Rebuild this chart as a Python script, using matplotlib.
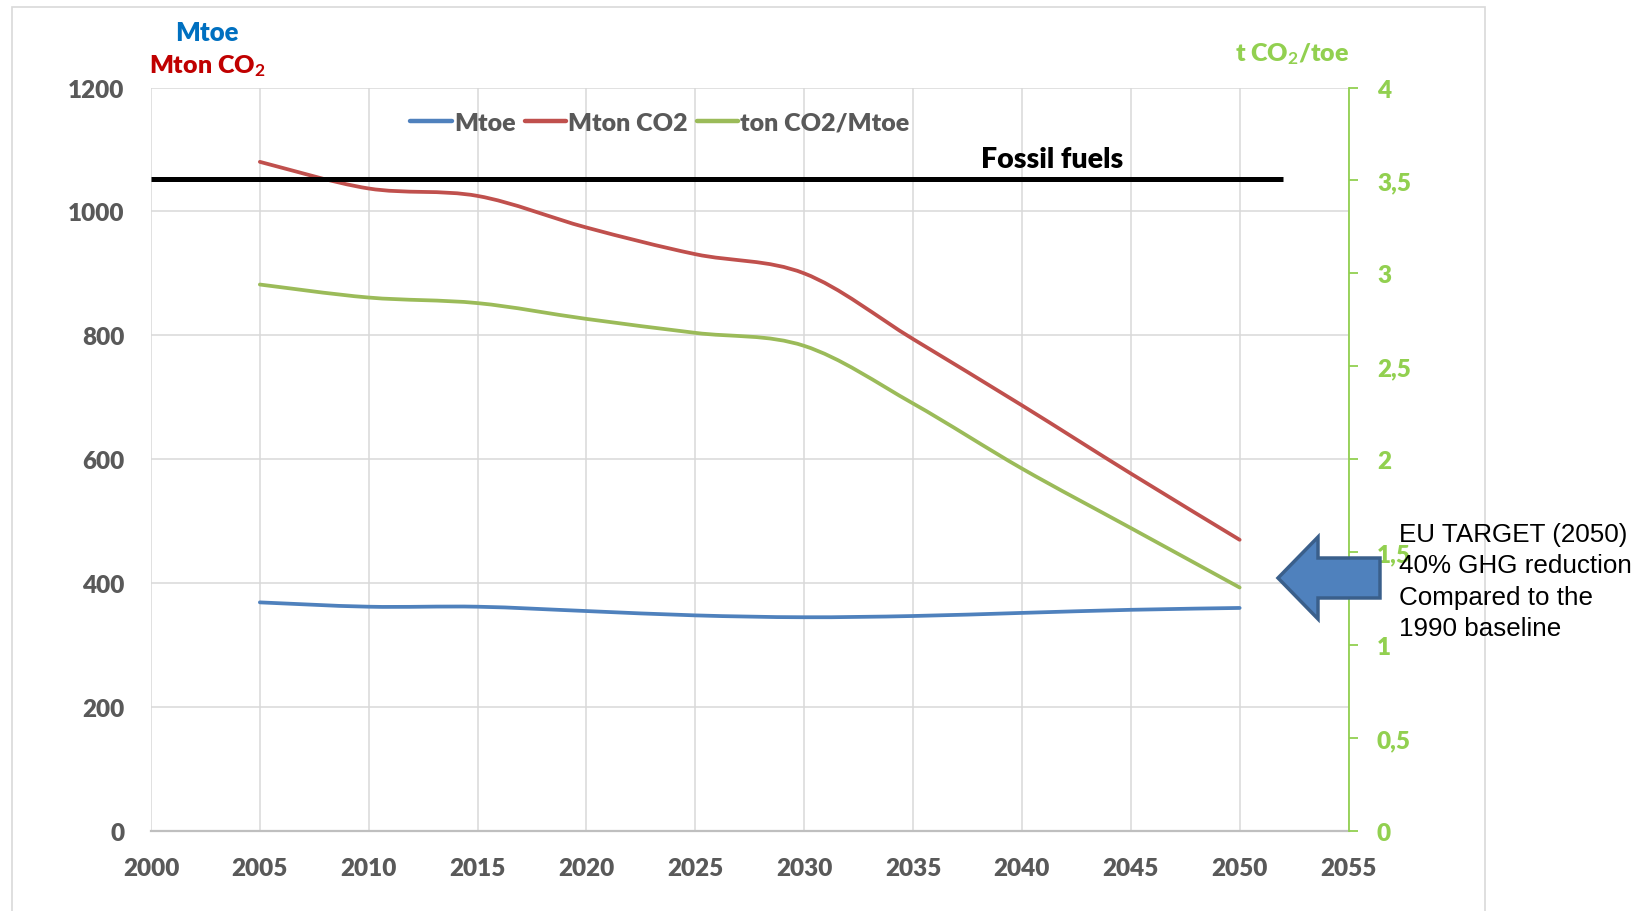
import numpy as np
import matplotlib
matplotlib.use('Agg')
import matplotlib.pyplot as plt
from matplotlib.path import Path
from matplotlib.patches import PathPatch, Polygon, Rectangle
from matplotlib.lines import Line2D
from matplotlib.ticker import FuncFormatter

# data
years = [2005, 2010, 2015, 2020, 2025, 2030, 2035, 2040, 2045, 2050]
mtoe = [369, 362, 362, 355, 348, 345, 347, 352, 357, 360]
mton_co2 = [1080, 1037, 1025, 974, 931, 900, 794, 687, 577, 470]
t_co2_per_toe = [2.94, 2.87, 2.84, 2.755, 2.68, 2.61, 2.30, 1.95, 1.63, 1.31]
fossil_level = 1052
fossil_span = [2000, 2052]
x_ticks = list(range(2000, 2056, 5))
left_ticks = list(range(0, 1201, 200))
right_ticks = [0, 0.5, 1, 1.5, 2, 2.5, 3, 3.5, 4]
legend_labels = ['Mtoe', 'Mton CO2', 'ton CO2/Mtoe']
note_lines = ['EU TARGET (2050)', '40% GHG reduction', 'Compared to the', '1990 baseline']

BLUE = '#4F81BD'
RED = '#C0504D'
GREEN = '#9BBB59'
AXGREEN = '#92D050'
GREY = '#595959'
GRID = '#D9D9D9'

plt.rcParams['font.family'] = ['Lato', 'DejaVu Sans']
plt.rcParams['font.weight'] = 'bold'
plt.rcParams['mathtext.fontset'] = 'custom'
plt.rcParams['mathtext.rm'] = 'Lato:bold'
plt.rcParams['mathtext.it'] = 'Lato:bold'
plt.rcParams['mathtext.bf'] = 'Lato:bold'


def smooth_path(x, y):
    # excel-like smoothed line: cubic bezier through the points
    pts = np.column_stack([np.asarray(x, float), np.asarray(y, float)])
    ext = np.vstack([pts[0], pts, pts[-1]])
    verts = [pts[0]]
    codes = [Path.MOVETO]
    for i in range(len(pts) - 1):
        p0, p1, p2, p3 = ext[i], ext[i + 1], ext[i + 2], ext[i + 3]
        verts += [p1 + (p2 - p0) / 6, p2 - (p3 - p1) / 6, p2]
        codes += [Path.CURVE4] * 3
    return Path(verts, codes)


W, H = 1635, 912
fig = plt.figure(figsize=(W / 100, H / 100), dpi=100)

# outer chart frame
fig.patches.append(Rectangle((11.5 / W, -0.05), (1485 - 11.5) / W, 1.05 - 8.3 / H,
                             transform=fig.transFigure, fill=False,
                             edgecolor=GRID, linewidth=1.2))

ax = fig.add_axes([151 / W, 80 / H, (1348.5 - 151) / W, (832 - 88.5) / H])
ax2 = ax.twinx()

ax.set_xlim(2000, 2055)
ax.set_ylim(0, 1200)
ax2.set_ylim(0, 4)

ax.set_xticks(x_ticks)
ax.set_yticks(left_ticks)
ax.grid(True, color=GRID, linewidth=1.1)
ax.set_axisbelow(True)
for s in ['left', 'top', 'right']:
    ax.spines[s].set_visible(False)
ax.spines['bottom'].set_color('#BFBFBF')
ax.spines['bottom'].set_linewidth(1.6)
ax.tick_params(axis='both', length=0, labelsize=17.5, labelcolor=GREY)
ax.tick_params(axis='y', pad=19)
ax.tick_params(axis='x', pad=19)

for s in ['left', 'top', 'bottom']:
    ax2.spines[s].set_visible(False)
ax2.spines['right'].set_color(AXGREEN)
ax2.spines['right'].set_linewidth(1.3)
ax2.set_yticks(right_ticks)
ax2.yaxis.set_major_formatter(FuncFormatter(lambda v, p: ('%g' % v).replace('.', ',')))
ax2.tick_params(axis='y', length=6.5, width=1.3, color=AXGREEN, direction='out',
                labelsize=17.5, labelcolor=AXGREEN, pad=14)

for lab in ax.get_xticklabels() + ax.get_yticklabels() + ax2.get_yticklabels():
    lab.set_fontweight('heavy')

# series
ax.add_patch(PathPatch(smooth_path(years, mtoe), fill=False, edgecolor=BLUE,
                       linewidth=2.7, capstyle='round', zorder=3))
ax.add_patch(PathPatch(smooth_path(years, mton_co2), fill=False, edgecolor=RED,
                       linewidth=2.7, capstyle='round', zorder=3))
ax2.add_patch(PathPatch(smooth_path(years, t_co2_per_toe), fill=False, edgecolor=GREEN,
                        linewidth=2.7, capstyle='round', zorder=3))

# fossil fuels reference line
ax.plot(fossil_span, [fossil_level, fossil_level], color='black', linewidth=3.6,
        solid_capstyle='butt', zorder=4)
ax.text(2041.4, fossil_level + 11, 'Fossil fuels', ha='center', va='bottom',
        fontsize=20.5, color='black', fontweight='heavy')

# legend
handles = [Line2D([], [], color=c, linewidth=3.2, solid_capstyle='round')
           for c in [BLUE, RED, GREEN]]
leg = fig.legend(handles, legend_labels, loc='center', bbox_to_anchor=(660 / W, 1 - 124 / H),
                 ncol=3, frameon=False, fontsize=18, handlelength=1.65,
                 handletextpad=0.1, columnspacing=0.35, borderpad=0)
for t in leg.get_texts():
    t.set_color(GREY)
    t.set_fontweight('heavy')

# axis titles
fig.text(207 / W, 1 - 33 / H, 'Mtoe', ha='center', va='center', fontsize=18.5,
         color='#0070C0', fontweight='heavy')
fig.text(207 / W, 1 - 66 / H, 'Mton CO$_2$', ha='center', va='center', fontsize=18,
         color='#C00000', fontweight='heavy')
fig.text(1292 / W, 1 - 54 / H, 't CO$_2$/toe', ha='center', va='center', fontsize=18,
         color=AXGREEN, fontweight='heavy')

# EU target arrow and note
arrow_px = [(1278, 579), (1318, 538), (1318, 559), (1380, 559),
            (1380, 599), (1318, 599), (1318, 620)]
fig.patches.append(Polygon([(x / W, 1 - y / H) for x, y in arrow_px], closed=True,
                           transform=fig.transFigure, facecolor=BLUE,
                           edgecolor='#3A5F8B', linewidth=2.5, joinstyle='miter', zorder=5))
fig.text(1399 / W, 1 - 582 / H, '\n'.join(note_lines), ha='left', va='center',
         fontsize=18.7, color='black', fontweight='normal', linespacing=1.4,
         family=['Liberation Sans', 'DejaVu Sans'], zorder=6)

fig.savefig('out.png', dpi=100)
